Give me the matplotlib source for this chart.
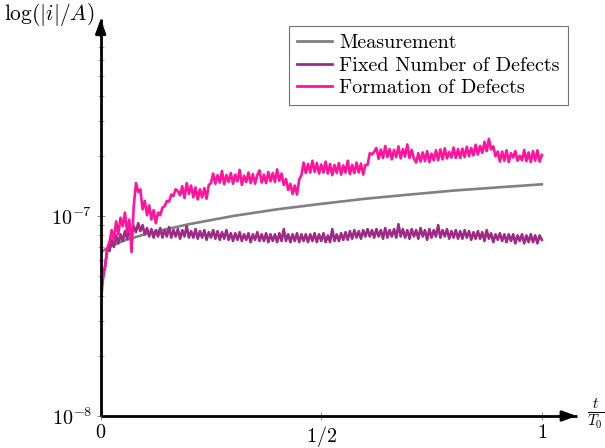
import numpy as np
import matplotlib
matplotlib.use("Agg")
from matplotlib import pyplot as plt
from matplotlib.ticker import LogLocator, NullFormatter, FixedLocator

plt.rcParams['font.family'] = 'serif'
plt.rcParams['font.serif'] = ['cmr10', 'DejaVu Serif']
plt.rcParams['mathtext.fontset'] = 'cm'
plt.rcParams['axes.formatter.use_mathtext'] = True

# measurement (smooth), current in units of 1e-8 A
t_meas = [0, 0.02, 0.05, 0.1, 0.15, 0.2, 0.3, 0.4, 0.5, 0.6, 0.7, 0.8, 0.9, 1.0]
i_meas = [6.6, 7.0, 7.5, 8.1, 8.6, 9.1, 10.0, 10.8, 11.5, 12.2, 12.8, 13.4, 13.9, 14.4]

# simulations, sampled every 0.005 t/T0, units of 1e-8 A
i_fixed = [
    4.3, 5.1, 5.6, 6.8, 6.7, 7.6, 7.0, 8.0, 7.3, 8.1,
    7.5, 8.4, 7.7, 8.6, 7.9, 8.9, 8.3, 9.2, 8.4, 9.0,
    8.1, 8.7, 7.9, 8.6, 7.8, 8.5, 7.9, 8.7, 7.8, 8.5,
    7.9, 8.8, 7.8, 8.5, 7.9, 8.6, 7.7, 8.5, 7.9, 8.9,
    7.8, 8.4, 7.8, 8.6, 7.7, 8.4, 7.8, 8.5, 7.6, 8.3,
    7.8, 8.5, 7.7, 8.4, 7.6, 8.3, 7.7, 8.5, 7.6, 8.2,
    7.5, 8.2, 7.6, 8.3, 7.5, 8.1, 7.6, 8.2, 7.4, 8.1,
    7.6, 8.3, 7.5, 8.1, 7.5, 8.2, 7.4, 8.1, 7.5, 8.1,
    7.4, 8.2, 7.5, 8.6, 7.5, 8.1, 7.4, 8.1, 7.5, 8.2,
    7.4, 8.1, 7.5, 8.1, 7.4, 8.1, 7.5, 8.2, 7.4, 8.1,
    7.5, 8.2, 7.4, 8.0, 7.4, 8.6, 7.5, 8.1, 7.5, 8.2,
    7.6, 8.3, 7.6, 8.4, 7.7, 8.5, 7.8, 8.4, 7.7, 8.5,
    7.9, 8.6, 7.9, 8.5, 7.8, 8.6, 7.9, 8.5, 7.7, 8.7,
    7.8, 8.5, 7.9, 8.6, 7.8, 9.1, 7.9, 8.6, 7.8, 8.5,
    7.7, 8.6, 7.9, 8.5, 7.7, 8.7, 7.9, 8.5, 7.6, 8.6,
    7.8, 8.5, 7.9, 9.0, 7.8, 8.5, 7.9, 8.6, 7.7, 8.4,
    7.8, 8.5, 7.7, 8.4, 7.7, 8.5, 7.8, 8.4, 7.6, 8.3,
    7.7, 8.4, 7.7, 8.3, 7.5, 8.5, 7.7, 8.2, 7.4, 8.1,
    7.6, 8.2, 7.5, 8.1, 7.4, 8.1, 7.5, 8.1, 7.3, 8.0,
    7.5, 8.1, 7.3, 8.0, 7.4, 8.1, 7.4, 8.0, 7.3, 8.0,
    7.6]

i_form = [
    3.6, 4.8, 5.6, 6.9, 7.4, 8.5, 7.6, 9.4, 8.1, 9.8,
    8.9, 10.4, 8.3, 9.6, 6.6, 11.2, 14.6, 13.2, 13.6, 10.8,
    11.9, 10.1, 11.3, 9.6, 10.7, 9.2, 10.4, 10.1, 11.0, 11.2,
    11.9, 11.8, 12.8, 12.6, 13.6, 13.3, 12.7, 14.1, 12.3, 14.6,
    12.9, 14.2, 12.4, 13.9, 12.1, 13.6, 12.4, 13.8, 12.2, 14.3,
    14.6, 16.3, 14.5, 16.0, 14.7, 16.8, 14.4, 16.0, 14.8, 16.4,
    14.5, 16.1, 14.9, 17.0, 14.3, 15.9, 14.8, 16.5, 14.6, 16.2,
    14.5, 16.0, 16.9, 14.7, 16.1, 14.6, 16.6, 14.9, 16.4, 14.8,
    17.1, 15.0, 16.3, 14.3, 15.3, 13.5, 14.5, 12.9, 14.2, 12.8,
    15.2, 16.0, 18.5, 16.4, 18.2, 16.5, 18.9, 16.6, 18.4, 16.3,
    18.1, 16.5, 18.7, 16.3, 18.2, 16.0, 18.0, 16.4, 18.4, 16.1,
    17.9, 16.5, 18.9, 16.2, 18.0, 16.4, 18.5, 16.5, 18.3, 16.1,
    18.0, 18.0, 20.6, 20.3, 21.0, 21.9, 19.3, 21.5, 19.5, 22.4,
    19.7, 21.6, 19.2, 21.4, 19.7, 22.3, 19.4, 21.6, 19.8, 22.8,
    19.5, 21.4, 19.4, 18.5, 20.6, 18.7, 20.8, 18.8, 21.1, 18.6,
    20.5, 19.0, 21.3, 19.0, 21.5, 19.2, 21.8, 19.4, 20.9, 19.6,
    22.0, 19.5, 21.6, 19.5, 21.7, 19.7, 22.2, 19.9, 21.9, 20.1,
    22.7, 20.3, 22.4, 20.7, 23.5, 21.1, 24.3, 21.5, 22.3, 19.9,
    21.0, 18.7, 21.0, 18.9, 21.3, 18.6, 20.6, 19.6, 21.1, 18.9,
    20.0, 19.0, 21.4, 18.8, 20.8, 18.6, 21.1, 18.9, 21.3, 18.7,
    20.2]

t_sim = np.linspace(0, 1, len(i_form))
x_ticks = [0, 0.5, 1]
x_ticklabels = ['$0$', '$1/2$', '$1$']
y_ticks = [1e-8, 1e-7]
y_ticklabels = ['$10^{-8}$', '$10^{-7}$']

fs = 14.5

fig = plt.figure(figsize=(6.05, 4.48), dpi=100)
ax = fig.add_axes([0.1664, 0.0714, 0.7868, 0.8862])

ax.plot(t_meas, np.array(i_meas) * 1e-8, color='#808080', lw=1.9, label='Measurement')
ax.plot(t_sim, np.array(i_fixed) * 1e-8, color='#9E2A85', lw=1.9, label='Fixed Number of Defects')
ax.plot(t_sim, np.array(i_form) * 1e-8, color='#FF149B', lw=1.9, label='Formation of Defects')

ax.set_yscale('log')
ax.set_xlim(0, 1.079)
ax.set_ylim(1e-8, 9.66e-7)

ax.xaxis.set_major_locator(FixedLocator(x_ticks))
ax.set_xticklabels(x_ticklabels)
ax.yaxis.set_major_locator(FixedLocator(y_ticks))
ax.set_yticklabels(y_ticklabels)
ax.yaxis.set_minor_locator(LogLocator(base=10, subs=range(2, 10)))
ax.yaxis.set_minor_formatter(NullFormatter())
ax.tick_params(which='major', direction='inout', length=6, width=0.6, color='0.45',
               labelsize=fs, pad=3)
ax.tick_params(which='minor', direction='inout', length=4, width=0.5, color='0.5')

for s in ['top', 'right']:
    ax.spines[s].set_visible(False)
for s in ['left', 'bottom']:
    ax.spines[s].set_linewidth(2)
    ax.spines[s].set_capstyle('butt')

# arrow heads at the end of the axes
arr = dict(arrowstyle='-|>,head_length=0.6,head_width=0.22', color='k', lw=2,
           mutation_scale=14, shrinkA=0, shrinkB=0)
ax.annotate('', xy=(1, 0), xycoords='axes fraction', xytext=(-12, 0),
            textcoords='offset points', arrowprops=arr, annotation_clip=False)
ax.annotate('', xy=(0, 1), xycoords='axes fraction', xytext=(0, -12),
            textcoords='offset points', arrowprops=arr, annotation_clip=False)

fig.text(94 / 605, 1 - 15 / 448, r'$\log(|i|/A)$', ha='right', va='center', fontsize=15.5)
fig.text(596 / 605, 1 - 414 / 448, r'$\frac{t}{T_0}$', ha='center', va='center', fontsize=15.5)

leg = ax.legend(loc='upper right', bbox_to_anchor=(568 / 605, 1 - 26 / 448),
                bbox_transform=fig.transFigure, borderaxespad=0, fancybox=False,
                framealpha=1, edgecolor='0.45', fontsize=fs, handlelength=1.75,
                handletextpad=0.35, labelspacing=0.22, borderpad=0.4)
leg.get_frame().set_linewidth(0.8)
for line in leg.get_lines():
    line.set_linewidth(2)

fig.savefig('out.png', dpi=100)
